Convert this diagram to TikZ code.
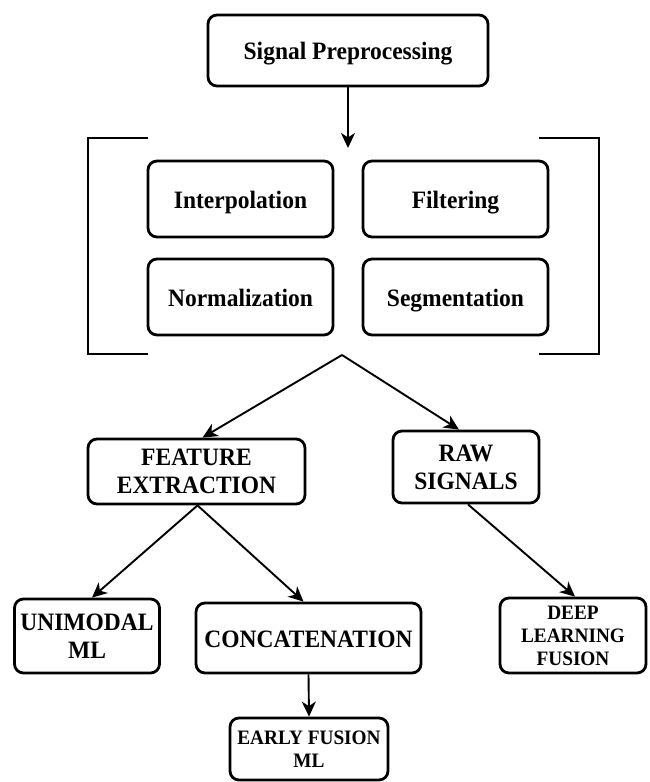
\documentclass[tikz,border=0pt]{standalone}
\usepackage{fontspec}
\setmainfont{Liberation Serif}[FakeStretch=0.94]
\usetikzlibrary{arrows.meta}
\begin{document}
\begin{tikzpicture}[x=1pt,y=-1pt,
  box/.style={draw=black, line width=2.8pt, rounded corners=9pt, fill=white,
    align=center, inner sep=0pt, font=\fontsize{25}{28}\selectfont\bfseries},
  onerow/.style={text height=22pt, text depth=4pt},
  smallbox/.style={box, font=\fontsize{20.5}{23}\selectfont\bfseries},
  flow/.style={draw=black, line width=1.9pt,
    -{Stealth[length=15pt,width=14pt,inset=4.5pt]}},
  bracket/.style={draw=black, line width=2pt}]
\useasboundingbox (0,0) rectangle (649,782);

% top stage
\node[box, onerow, minimum width=280, minimum height=71] (sig) at (348,50.5) {Signal Preprocessing};

% preprocessing steps
\node[box, onerow, minimum width=185, minimum height=76] (interp) at (240.5,199) {Interpolation};
\node[box, onerow, minimum width=185, minimum height=76] (filt) at (455.5,199) {Filtering};
\node[box, onerow, minimum width=185, minimum height=76] (norm) at (240.5,297) {Normalization};
\node[box, onerow, minimum width=185, minimum height=76] (seg) at (455.5,297) {Segmentation};

% square brackets around the steps
\draw[bracket] (148,138) -- (88,138) -- (88,354) -- (148,354);
\draw[bracket] (539,138) -- (599,138) -- (599,354) -- (539,354);

\coordinate (brtop) at (348,148);
\coordinate (apex) at (342,355);

% branches
\node[box, minimum width=217, minimum height=65] (fe) at (196.5,471.5) {FEATURE\\EXTRACTION};
\node[box, minimum width=146, minimum height=72] (raw) at (466,467) {RAW\\SIGNALS};

\node[box, minimum width=145, minimum height=74] (uni) at (87,636) {UNIMODAL\\ML};
\node[box, onerow, minimum width=225, minimum height=70] (cat) at (308.5,638) {CONCATENATION};
\node[smallbox, minimum width=146, minimum height=75] (deep) at (573,635.5) {DEEP\\LEARNING\\FUSION};
\node[smallbox, minimum width=158, minimum height=62] (early) at (309,749) {EARLY FUSION\\ML};

% connectors
\draw[flow] (sig.south) -- (brtop);
\draw[flow] (apex) -- ([xshift=6]fe.north);
\draw[flow] (apex) -- ([xshift=-7]raw.north);
\draw[flow] ([xshift=1]fe.south) -- ([xshift=5]uni.north);
\draw[flow] ([xshift=1]fe.south) -- ([xshift=-5]cat.north);
\draw[flow] ([xshift=2]raw.south) -- ([xshift=2]deep.north);
\draw[flow] (cat.south) -- (early.north);
\end{tikzpicture}
\end{document}
